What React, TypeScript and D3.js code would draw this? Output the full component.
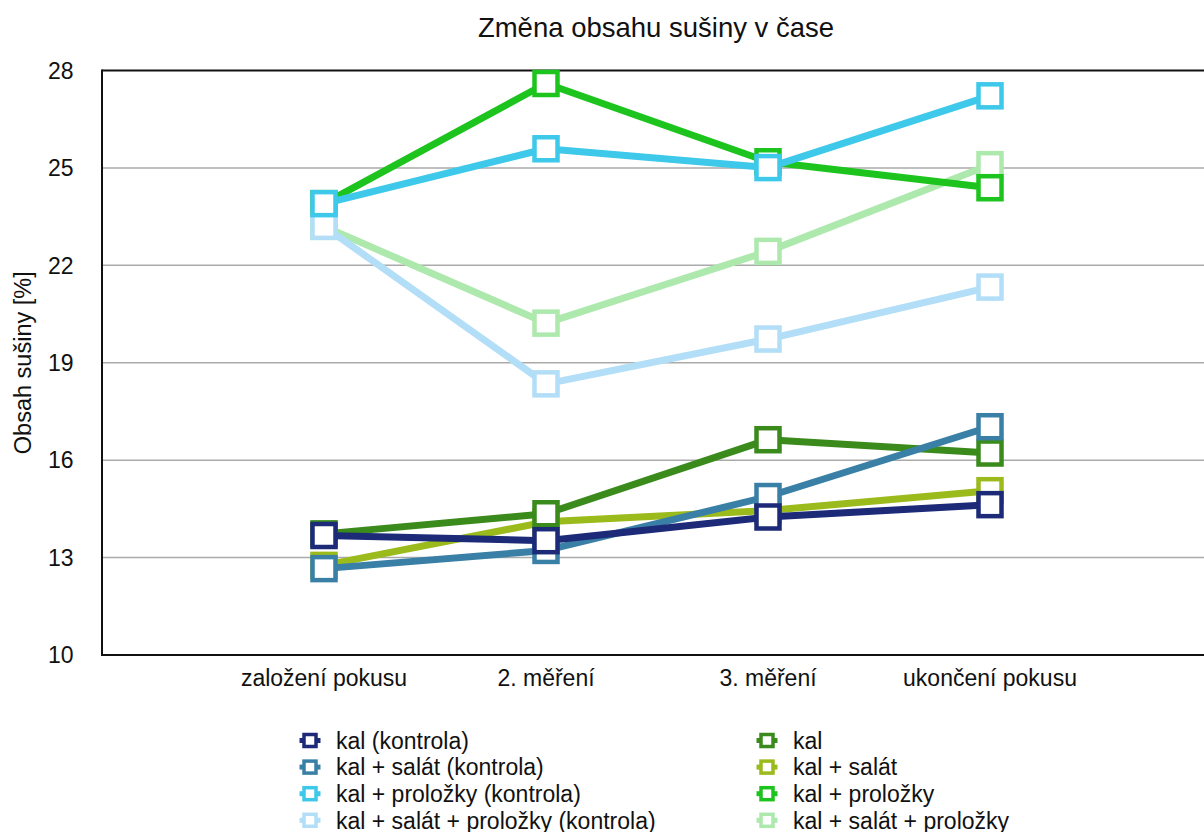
import React from "react";
import * as d3 from "d3";

const categories = ["založení pokusu", "2. měření", "3. měření", "ukončení pokusu"];

const seriesNames = [
  "kal (kontrola)",
  "kal + salát (kontrola)",
  "kal + proložky (kontrola)",
  "kal + salát + proložky (kontrola)",
  "kal",
  "kal + salát",
  "kal + proložky",
  "kal + salát + proložky",
];

const seriesColors = [
  "#1c2a78",
  "#3a80a6",
  "#3ec8ea",
  "#b3def7",
  "#3a8a1c",
  "#9bbb1c",
  "#1ec41e",
  "#ade8ad",
];

const kalKontrola = [13.68, 13.52, 14.25, 14.63];
const kalSalatKontrola = [12.66, 13.22, 14.88, 17.03];
const kalProlozkyKontrola = [23.9, 25.59, 25.01, 27.22];
const kalSalatProlozkyKontrola = [23.2, 18.35, 19.73, 21.33];
const kal = [13.73, 14.35, 16.63, 16.22];
const kalSalat = [12.76, 14.1, 14.45, 15.06];
const kalProlozky = [23.9, 27.6, 25.19, 24.39];
const kalSalatProlozky = [23.2, 20.22, 22.43, 25.1];

const seriesValues = [
  kalKontrola,
  kalSalatKontrola,
  kalProlozkyKontrola,
  kalSalatProlozkyKontrola,
  kal,
  kalSalat,
  kalProlozky,
  kalSalatProlozky,
];

const yTicks = [10, 13, 16, 19, 22, 25, 28];

const title = "Změna obsahu sušiny v čase";
const yLabel = "Obsah sušiny [%]";

const W = 1204;
const H = 832;
const FONT = "'Liberation Sans', Arial, Helvetica, sans-serif";

export default function App() {
  const left = 102;
  const right = 1212;
  const top = 70.5;
  const bottom = 655;

  const x = d3.scalePoint<string>().domain(categories).range([left, right]).padding(1);
  const y = d3.scaleLinear().domain([10, 28]).range([bottom, top]);

  const line = d3
    .line<number>()
    .x((_, i) => x(categories[i]) as number)
    .y((d) => y(d));

  const order = d3.range(seriesNames.length).reverse();
  const markerSize = 23;

  return (
    <svg
      width={W}
      height={H}
      style={{ position: "absolute", left: 0, top: 0, background: "#fff" }}
      fontFamily={FONT}
    >
      <rect x={0} y={0} width={W} height={H} fill="#fff" />
      <text x={(left + right) / 2 - 1} y={37} textAnchor="middle" fontSize={27.5} fill="#111">
        {title}
      </text>

      {/* grid */}
      {yTicks
        .filter((t) => t !== 10 && t !== 28)
        .map((t) => (
          <line key={t} x1={left} x2={W} y1={y(t)} y2={y(t)} stroke="#aaaaaa" strokeWidth={1.5} />
        ))}
      <line x1={left} x2={W} y1={y(28)} y2={y(28)} stroke="#111" strokeWidth={2} />
      <line x1={left} x2={W} y1={y(10)} y2={y(10)} stroke="#111" strokeWidth={2} />
      <line x1={left} x2={left} y1={y(28) - 1} y2={y(10) + 1} stroke="#111" strokeWidth={2} />

      {/* y ticks */}
      {yTicks.map((t) => (
        <text key={t} x={73.5} y={y(t)} dy="0.36em" textAnchor="end" fontSize={23} fill="#111">
          {t}
        </text>
      ))}
      <text
        transform={`translate(23, ${(top + bottom) / 2}) rotate(-90)`}
        textAnchor="middle"
        dy="0.36em"
        fontSize={23.5}
        fill="#111"
      >
        {yLabel}
      </text>

      {/* x labels */}
      {categories.map((c) => (
        <text key={c} x={x(c)} y={686} textAnchor="middle" fontSize={23} fill="#111">
          {c}
        </text>
      ))}

      {/* series */}
      {order.map((si) => (
        <g key={si}>
          <path
            d={line(seriesValues[si]) || ""}
            fill="none"
            stroke={seriesColors[si]}
            strokeWidth={7}
            strokeLinejoin="round"
          />
          {seriesValues[si].map((v, i) => (
            <rect
              key={i}
              x={(x(categories[i]) as number) - markerSize / 2}
              y={y(v) - markerSize / 2}
              width={markerSize}
              height={markerSize}
              fill="#fff"
              stroke={seriesColors[si]}
              strokeWidth={4.5}
            />
          ))}
        </g>
      ))}

      {/* legend */}
      {seriesNames.map((name, i) => {
        const col = Math.floor(i / 4);
        const row = i % 4;
        const mx = col === 0 ? 310 : 767;
        const tx = col === 0 ? 336 : 793;
        const cy = 740.5 + row * 26.6;
        return (
          <g key={name}>
            <line x1={mx - 10.5} x2={mx + 10.5} y1={cy} y2={cy} stroke={seriesColors[i]} strokeWidth={5} />
            <rect x={mx - 6} y={cy - 6} width={12} height={12} fill="#fff" stroke={seriesColors[i]} strokeWidth={3.5} />
            <text x={tx} y={cy} dy="0.36em" fontSize={23} fill="#111">
              {name}
            </text>
          </g>
        );
      })}
    </svg>
  );
}
